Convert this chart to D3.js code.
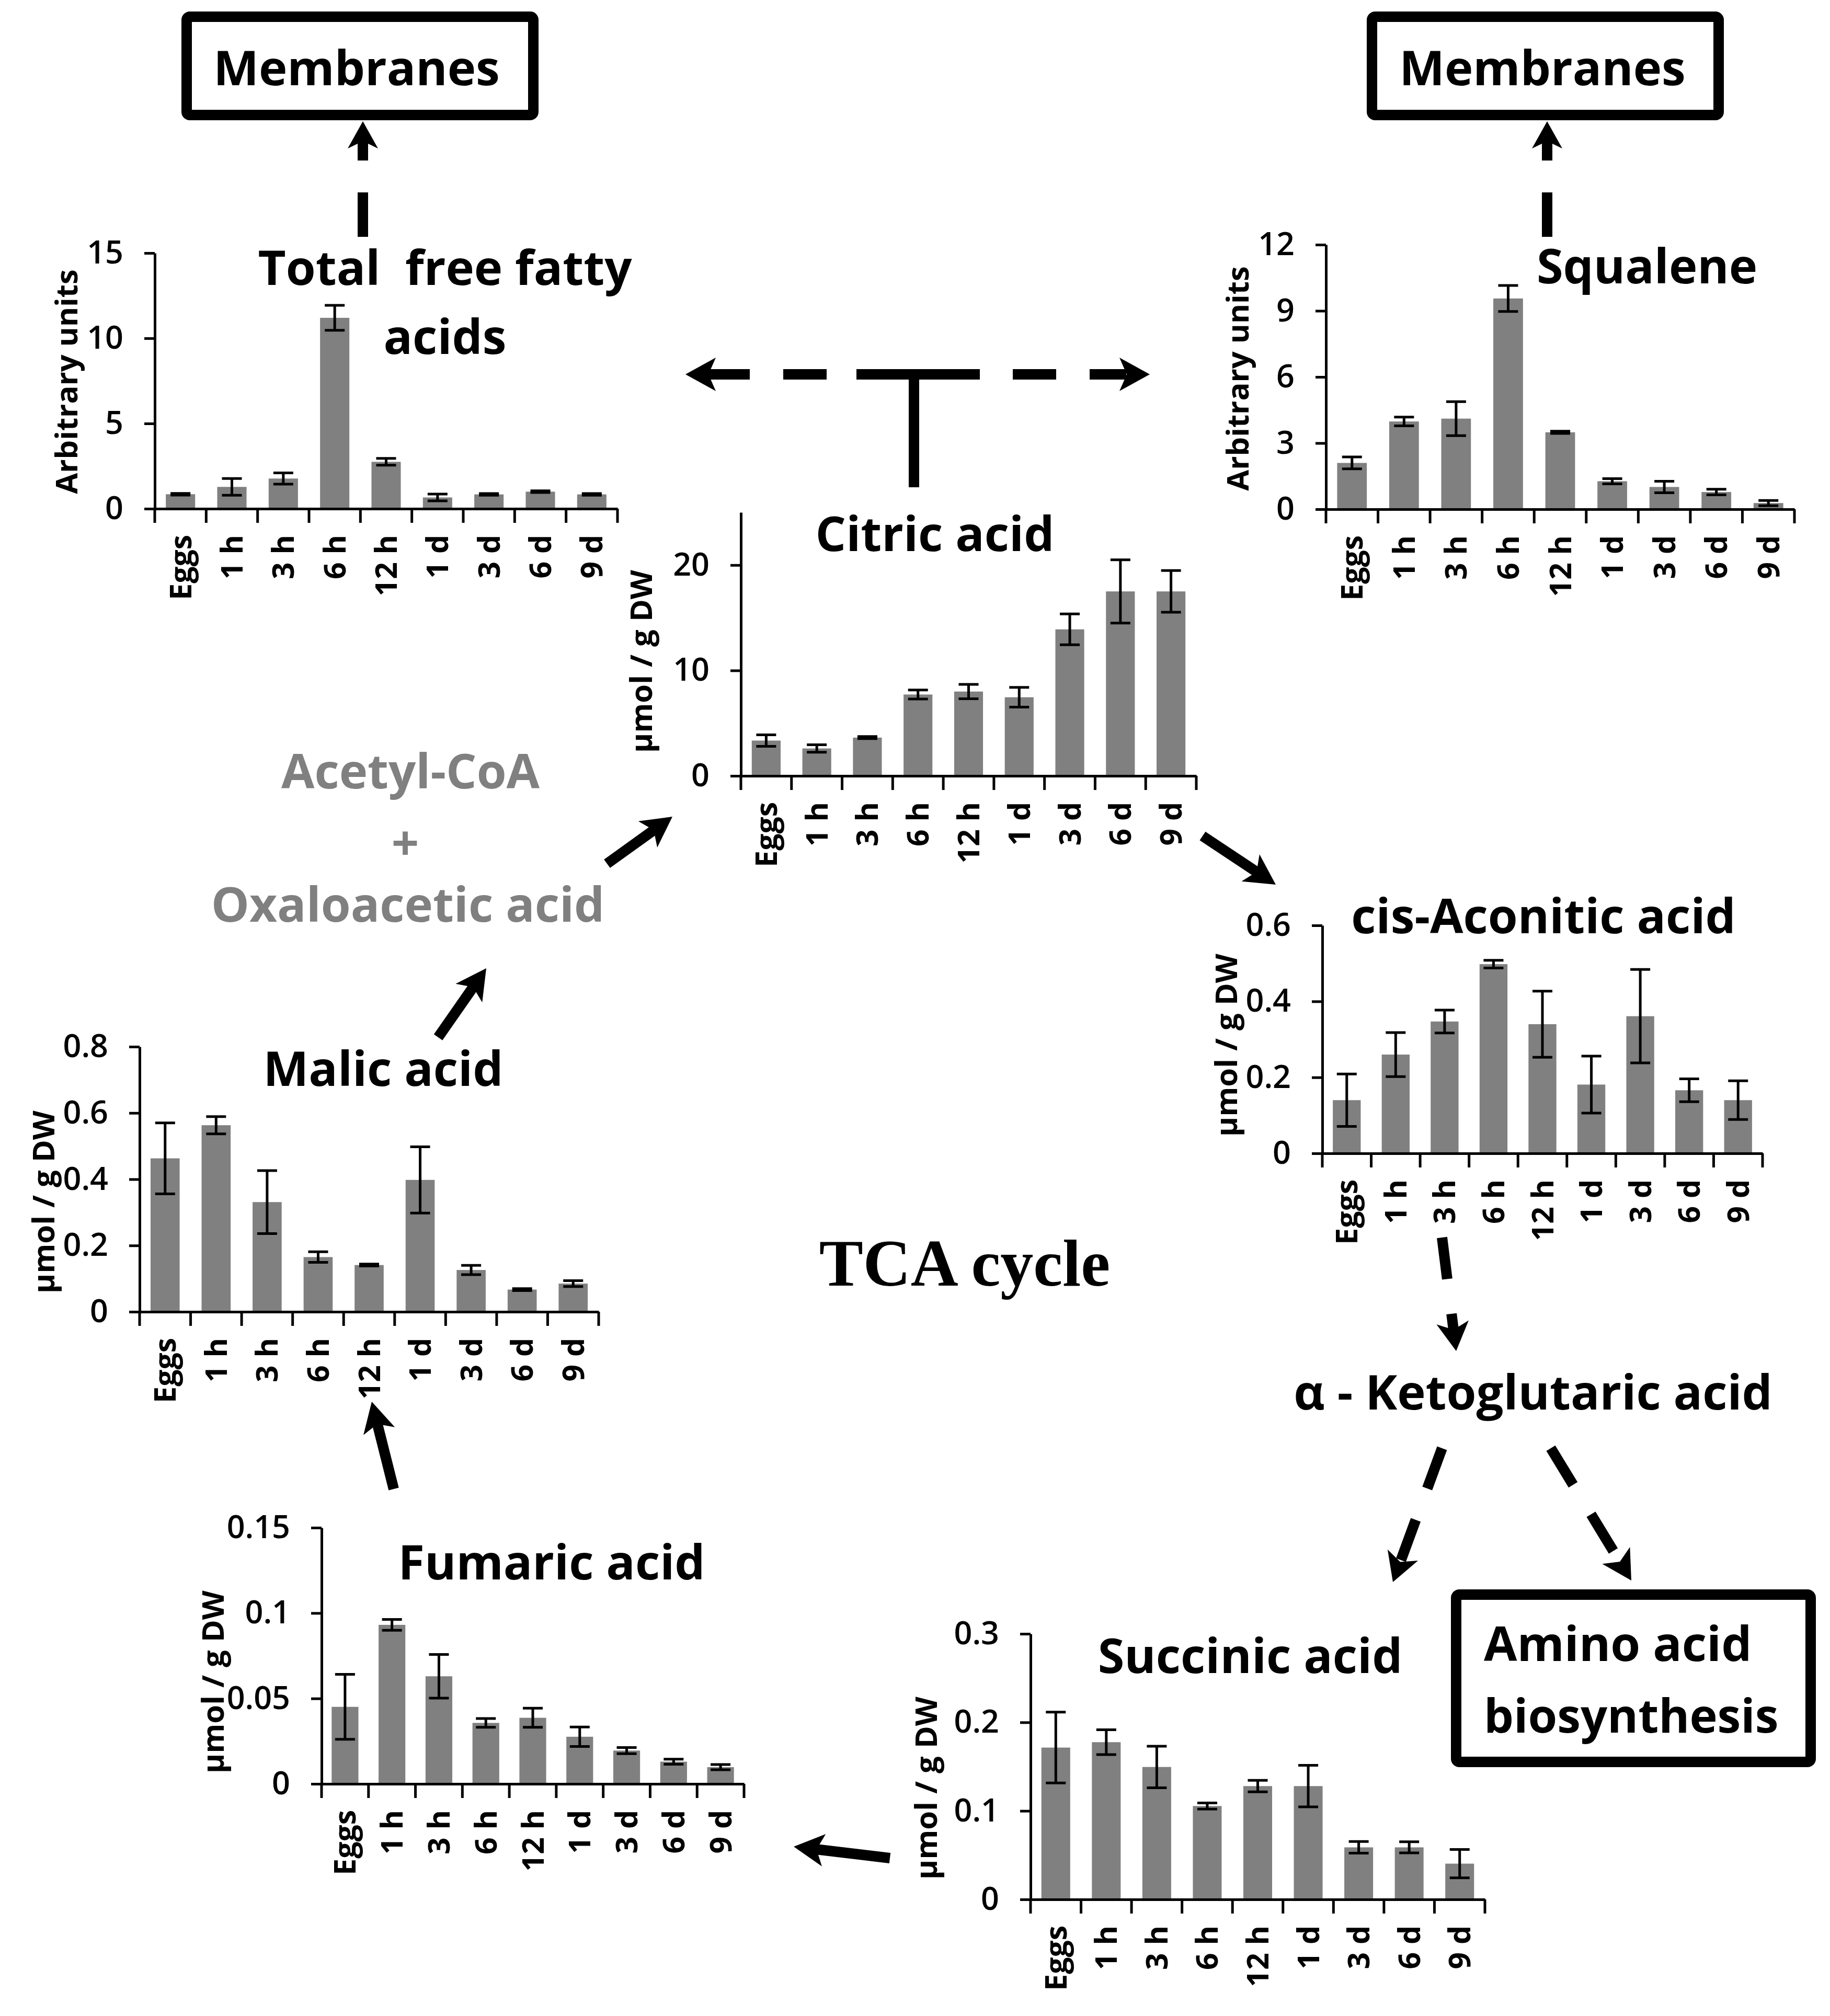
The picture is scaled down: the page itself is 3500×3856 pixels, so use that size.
<!DOCTYPE html>
<html><head><meta charset="utf-8">
<script src="https://cdn.jsdelivr.net/npm/d3@7"></script>
<style>body{margin:0;background:#fff} svg{display:block;background:#fff}</style>
</head><body>
<svg id="c" width="3500" height="3856"></svg>
<script>
// ---------------- DATA ----------------
const categories = ["Eggs","1 h","3 h","6 h","12 h","1 d","3 d","6 d","9 d"];

const tffaMean = [0.85,1.28,1.77,11.2,2.75,0.66,0.84,1.0,0.84];
const tffaErr  = [0.05,0.49,0.33,0.73,0.2,0.2,0.05,0.05,0.05];
const tffaTicks = [0,5,10,15];
const tffaMax = 15;

const squaleneMean = [2.1,3.98,4.11,9.56,3.49,1.27,1.01,0.78,0.28];
const squaleneErr  = [0.27,0.2,0.77,0.59,0.05,0.12,0.26,0.13,0.12];
const squaleneTicks = [0,3,6,9,12];
const squaleneMax = 12;

const citricMean = [3.35,2.6,3.63,7.72,8.0,7.46,13.9,17.5,17.5];
const citricErr  = [0.55,0.35,0.1,0.43,0.68,0.94,1.46,3.0,1.98];
const citricTicks = [0,10,20];
const citricMax = 25;

const aconiticMean = [0.14,0.26,0.347,0.498,0.34,0.181,0.361,0.166,0.14];
const aconiticErr  = [0.069,0.058,0.03,0.01,0.087,0.075,0.123,0.03,0.051];
const aconiticTicks = [0,0.2,0.4,0.6];
const aconiticMax = 0.6;

const malicMean = [0.463,0.563,0.331,0.165,0.141,0.398,0.126,0.067,0.085];
const malicErr  = [0.107,0.026,0.095,0.016,0.003,0.1,0.014,0.003,0.009];
const malicTicks = [0,0.2,0.4,0.6,0.8];
const malicMax = 0.8;

const fumaricMean = [0.0451,0.0931,0.063,0.0357,0.0387,0.0276,0.0195,0.013,0.0098];
const fumaricErr  = [0.019,0.0032,0.0128,0.0026,0.0056,0.0057,0.0018,0.0015,0.0015];
const fumaricTicks = [0,0.05,0.1,0.15];
const fumaricMax = 0.15;

const succinicMean = [0.1715,0.1776,0.1496,0.1055,0.128,0.128,0.0588,0.0588,0.0404];
const succinicErr  = [0.04,0.014,0.0235,0.0035,0.0065,0.0235,0.0066,0.0063,0.016];
const succinicTicks = [0,0.1,0.2,0.3];
const succinicMax = 0.3;

const unitArb = "Arbitrary units";
const unitMol = "µmol / g DW";

// ---------------- LAYOUT ----------------
const SANS = "'Open Sans', 'Noto Sans', sans-serif";
const svg = d3.select("#c");

const panels = [
  {mean:tffaMean, err:tffaErr, ticks:tffaTicks, max:tffaMax, x0:296, x1:1181, yTop:484, y0:973,
   ytitle:unitArb, ytx:125, yty:730, title:["Total  free fatty","acids"], tx:851, ty:[545,677]},
  {mean:squaleneMean, err:squaleneErr, ticks:squaleneTicks, max:squaleneMax, x0:2536, x1:3432, yTop:468, y0:974,
   ytitle:unitArb, ytx:2365, yty:724, title:["Squalene"], tx:3150, ty:[542]},
  {mean:citricMean, err:citricErr, ticks:citricTicks, max:citricMax, x0:1417, x1:2288, yTop:980, y0:1484,
   ytitle:unitMol, ytx:1224, yty:1265, title:["Citric acid"], tx:1788, ty:[1054]},
  {mean:aconiticMean, err:aconiticErr, ticks:aconiticTicks, max:aconiticMax, x0:2529, x1:3371, yTop:1770, y0:2206,
   ytitle:unitMol, ytx:2343, yty:1999, title:["cis-Aconitic acid"], tx:2952, ty:[1785]},
  {mean:malicMean, err:malicErr, ticks:malicTicks, max:malicMax, x0:267, x1:1145, yTop:2002, y0:2509,
   ytitle:unitMol, ytx:81, yty:2299, title:["Malic acid"], tx:733, ty:[2077]},
  {mean:fumaricMean, err:fumaricErr, ticks:fumaricTicks, max:fumaricMax, x0:615, x1:1423, yTop:2922, y0:3412,
   ytitle:unitMol, ytx:405, yty:3217, title:["Fumaric acid"], tx:1055, ty:[3021]},
  {mean:succinicMean, err:succinicErr, ticks:succinicTicks, max:succinicMax, x0:1971, x1:2840, yTop:3125, y0:3633,
   ytitle:unitMol, ytx:1769, yty:3420, title:["Succinic acid"], tx:2391, ty:[3200]}
];

const fmt = d3.format("~g");

panels.forEach(p => {
  const g = svg.append("g");
  const x = d3.scaleBand().domain(categories).range([p.x0, p.x1]).paddingInner(0).paddingOuter(0);
  const y = d3.scaleLinear().domain([0, p.max]).range([p.y0, p.yTop]);
  const bw = x.bandwidth() * 0.57;

  // bars
  g.append("g").selectAll("rect").data(categories).join("rect")
    .attr("x", (c) => x(c) + (x.bandwidth() - bw) / 2)
    .attr("width", bw)
    .attr("y", (c, i) => y(p.mean[i]))
    .attr("height", (c, i) => p.y0 - y(p.mean[i]))
    .attr("fill", "#808080");

  // error bars
  const eb = g.append("g").attr("stroke", "#000").attr("stroke-width", 5).attr("fill", "none");
  categories.forEach((c, i) => {
    const cx = x(c) + x.bandwidth() / 2;
    const hi = y(p.mean[i] + p.err[i]), lo = y(p.mean[i] - p.err[i]);
    eb.append("line").attr("x1", cx).attr("x2", cx).attr("y1", hi).attr("y2", lo);
    eb.append("line").attr("x1", cx - 19).attr("x2", cx + 19).attr("y1", hi).attr("y2", hi);
    eb.append("line").attr("x1", cx - 19).attr("x2", cx + 19).attr("y1", lo).attr("y2", lo);
  });

  // y axis
  const ya = g.append("g").attr("transform", `translate(${p.x0},0)`)
    .call(d3.axisLeft(y).tickValues(p.ticks).tickSize(20).tickSizeOuter(0).tickPadding(40).tickFormat(fmt));
  ya.select(".domain").attr("stroke", "#000").attr("stroke-width", 5);
  ya.selectAll(".tick line").attr("stroke", "#000").attr("stroke-width", 5);
  ya.selectAll(".tick text").attr("font-family", SANS).attr("font-size", 61)
    .attr("font-weight", 600).attr("fill", "#000");

  // x axis
  const xa = g.append("g").attr("transform", `translate(0,${p.y0})`)
    .call(d3.axisBottom(x).tickSize(0).tickSizeOuter(0));
  xa.select(".domain").attr("stroke", "#000").attr("stroke-width", 5);
  xa.selectAll(".tick text")
    .attr("transform", "rotate(-90)")
    .attr("x", -50).attr("y", 0).attr("dy", "0.36em")
    .attr("text-anchor", "end")
    .attr("font-family", SANS).attr("font-size", 57).attr("font-weight", "bold").attr("fill", "#000");
  // boundary ticks
  const step = x.step();
  d3.range(categories.length + 1).forEach(i => {
    xa.append("line").attr("x1", p.x0 + i * step).attr("x2", p.x0 + i * step)
      .attr("y1", 0).attr("y2", 27).attr("stroke", "#000").attr("stroke-width", 5);
  });

  // y title
  g.append("text")
    .attr("transform", `translate(${p.ytx},${p.yty}) rotate(-90)`)
    .attr("text-anchor", "middle").attr("dominant-baseline", "central")
    .attr("font-family", SANS).attr("font-size", 58).attr("font-weight", "bold")
    .text(p.ytitle);

  // chart title
  p.title.forEach((t, k) => {
    g.append("text").attr("x", p.tx).attr("y", p.ty[k])
      .attr("text-anchor", "middle")
      .attr("font-family", SANS).attr("font-size", 92).attr("font-weight", "bold")
      .attr("xml:space", "preserve").style("white-space", "pre")
      .text(t);
  });
});

// ---------------- DIAGRAM ANNOTATIONS ----------------
const ann = svg.append("g");

function head(x2, y2, ang, L = 58, W = 62, notch = 14) {
  const pts = [[0,0],[-L,-W/2],[-L+notch,0],[-L,W/2]].map(([a,b]) => {
    const c = Math.cos(ang), s = Math.sin(ang);
    return [x2 + a*c - b*s, y2 + a*s + b*c];
  });
  ann.append("polygon").attr("points", pts.map(q => q.join(",")).join(" ")).attr("fill", "#000");
}
function arrow(x1, y1, x2, y2, dash, L = 58, W = 62) {
  const ang = Math.atan2(y2 - y1, x2 - x1);
  const len = Math.hypot(x2 - x1, y2 - y1);
  const endLen = len - L + 16;
  const ex = x1 + Math.cos(ang) * endLen, ey = y1 + Math.sin(ang) * endLen;
  const ln = ann.append("line").attr("x1", x1).attr("y1", y1).attr("x2", ex).attr("y2", ey)
    .attr("stroke", "#000").attr("stroke-width", 20).attr("stroke-linecap", "butt");
  if (dash) ln.attr("stroke-dasharray", dash);
  head(x2, y2, ang, L, W);
}

// boxes
function box(x, y, w, h) {
  ann.append("rect").attr("x", x).attr("y", y).attr("width", w).attr("height", h)
    .attr("rx", 6).attr("fill", "none").attr("stroke", "#000").attr("stroke-width", 20);
}
box(357, 32, 663, 188);
box(2624, 32, 663, 188);
box(2785, 3050, 678, 320);

function label(t, x, y, opts = {}) {
  return ann.append("text").attr("x", x).attr("y", y)
    .attr("text-anchor", opts.anchor || "middle")
    .attr("font-family", opts.family || SANS).attr("font-size", opts.size || 92)
    .attr("font-weight", "bold").attr("fill", opts.fill || "#000").text(t);
}
label("Membranes", 682, 163);
label("Membranes", 2950, 163);
label("Amino acid", 2838, 3177, {anchor: "start"});
label("biosynthesis", 2838, 3314, {anchor: "start", size: 90});
label("α - Ketoglutaric acid", 2932, 2696);
label("Acetyl-CoA", 785, 1508, {fill: "#808080"});
label("+", 775, 1645, {fill: "#808080"});
label("Oxaloacetic acid", 780, 1763, {fill: "#808080"});
label("TCA cycle", 1845, 2459, {family: "'Liberation Serif', 'Times New Roman', serif", size: 126});

// dashed arrows to Membranes
arrow(694, 453, 694, 232, "85 61", 52, 58);
arrow(2959, 453, 2959, 232, "85 61", 52, 58);

// T-shaped split from Citric acid
ann.append("line").attr("x1", 1748).attr("x2", 1748).attr("y1", 706).attr("y2", 932)
  .attr("stroke", "#000").attr("stroke-width", 20);
[[1355,1434],[1498,1581],[1638,1874],[1937,2020],[2084,2154]].forEach(([a,b]) => {
  ann.append("line").attr("x1", a).attr("x2", b).attr("y1", 716).attr("y2", 716)
    .attr("stroke", "#000").attr("stroke-width", 20);
});
head(1311, 716, Math.PI, 58, 64);
head(2199, 716, 0, 58, 64);

// solid arrows
arrow(1161, 1652, 1286, 1562);
arrow(2300, 1599, 2440, 1692);
arrow(838, 1984, 930, 1852);
arrow(753, 2848, 711, 2681);
arrow(1702, 3554, 1518, 3532);

// dashed arrows around alpha-ketoglutarate
arrow(2758, 2367, 2785, 2584, "80 67", 55, 62);
arrow(2758, 2770, 2664, 3026, "82 64", 55, 62);
arrow(2966, 2770, 3120, 3023, "82 66", 56, 62);
</script>
</body></html>
